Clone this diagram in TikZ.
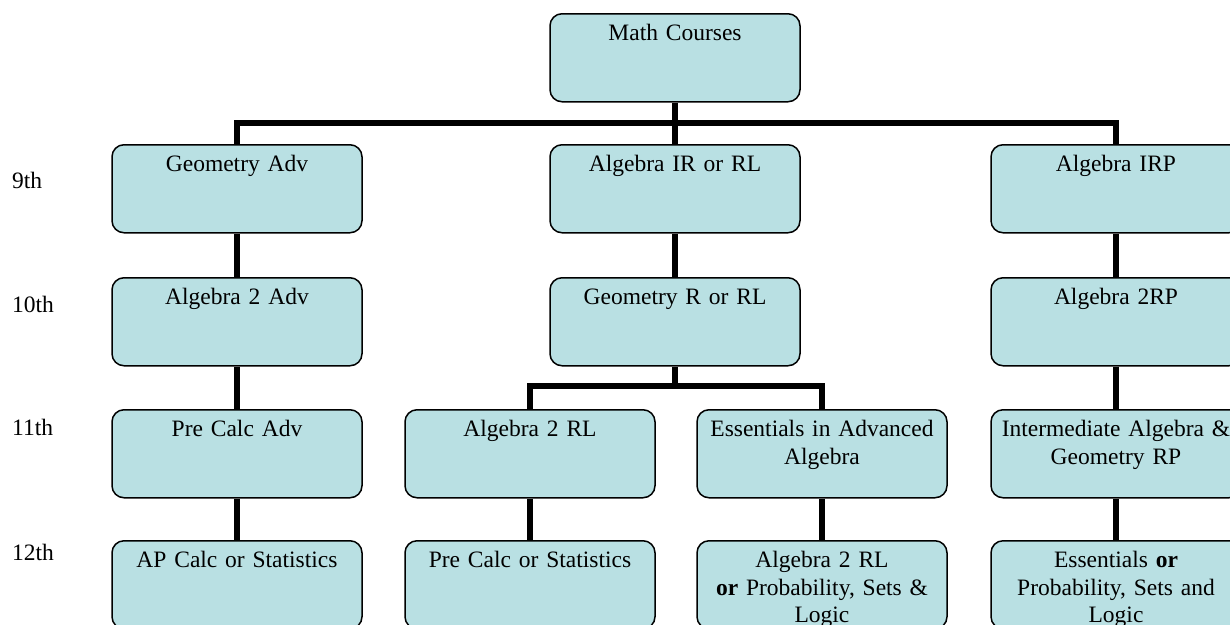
\documentclass[tikz,border=0pt]{standalone}
\usepackage{fontspec}
\setmainfont{Liberation Serif}
\definecolor{boxfill}{RGB}{185,224,227}
\tikzset{
  course/.style={draw, line width=1.5pt, fill=boxfill, rounded corners=12pt, anchor=north,
    minimum width=250pt, text width=240pt, align=center, inner xsep=5pt, inner ysep=4pt,
    text height=23pt, text depth=57pt},
  link/.style={line width=6pt},
  grade/.style={anchor=base west, inner sep=0pt}
}

\begin{document}
\begin{tikzpicture}[x=1pt,y=-1pt,font=\fontsize{23.5pt}{27.5pt}\selectfont]
\useasboundingbox (0,0) rectangle (1230,624);
\clip (0,0) rectangle (1230,624);
\foreach \g/\y in {9th/188, 10th/312, 11th/435, 12th/560}
  \node[grade] (g\g) at (12,\y) {\g};
\node[course] (math) at (675,13) {Math Courses};
% 9th
\node[course] (geoadv) at (237,144) {Geometry Adv};
\node[course] (algir) at (675,144) {Algebra IR or RL};
\node[course] (algirp) at (1116,144) {Algebra IRP};
% 10th
\node[course] (alg2adv) at (237,277) {Algebra 2 Adv};
\node[course] (geor) at (675,277) {Geometry R or RL};
\node[course] (alg2rp) at (1116,277) {Algebra 2RP};
% 11th
\node[course] (precalcadv) at (237,409) {Pre Calc Adv};
\node[course] (alg2rl) at (530,409) {Algebra 2 RL};
\node[course] (essadv) at (822,409) {Essentials in Advanced\\Algebra};
\node[course] (interm) at (1116,409) {Intermediate Algebra \&\\Geometry RP};
% 12th
\node[course] (apcalc) at (237,540) {AP Calc or Statistics};
\node[course] (precalc) at (530,540) {Pre Calc or Statistics};
\node[course] (alg2or) at (822,540) {Algebra 2 RL\\\textbf{or} Probability, Sets \&\\Logic};
\node[course] (essor) at (1116,540) {Essentials \textbf{or}\\Probability, Sets and\\Logic};
\coordinate (top) at (675,123);
\coordinate (split) at (675,386);
\draw[link] (math.south) -- (top);
\draw[link] (geoadv.north) |- (top) -| (algirp.north);
\draw[link] (top) -- (algir.north);
\draw[link] (geoadv.south) -- (alg2adv.north);
\draw[link] (alg2adv.south) -- (precalcadv.north);
\draw[link] (precalcadv.south) -- (apcalc.north);
\draw[link] (algir.south) -- (geor.north);
\draw[link] (geor.south) -- (split);
\draw[link] (alg2rl.north) |- (split) -| (essadv.north);
\draw[link] (alg2rl.south) -- (precalc.north);
\draw[link] (essadv.south) -- (alg2or.north);
\draw[link] (algirp.south) -- (alg2rp.north);
\draw[link] (alg2rp.south) -- (interm.north);
\draw[link] (interm.south) -- (essor.north);
\end{tikzpicture}
\end{document}
